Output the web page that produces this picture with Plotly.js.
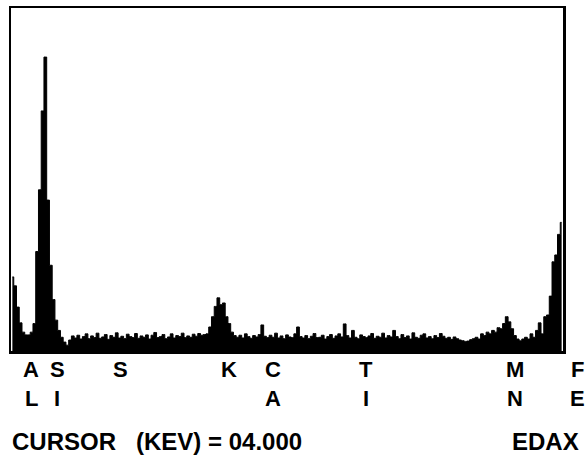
<!DOCTYPE html>
<html>
<head>
<meta charset="utf-8">
<script src="https://cdn.plot.ly/plotly-3.0.1.min.js"></script>
<style>html,body{margin:0;padding:0;background:#fff;}#chart{width:588px;height:459px;}</style>
</head>
<body>
<div id="chart"></div>
<script>
// EDS spectrum: channel calibration (keV)
const startKeV = 1.32;
const stepKeV = 0.025;

// counts per channel (arbitrary units)
const counts = [
  21.6, 19.0, 12.8, 8.2, 5.5, 4.7, 4.7, 5.5, 8.0, 29.0,
  47.0, 70.0, 85.7, 44.0, 25.0, 15.0, 9.0, 6.0, 4.0, 2.6,
  1.7, 3.2, 4.4, 3.8, 4.6, 3.5, 4.2, 5.0, 3.6, 4.4,
  3.9, 5.2, 3.7, 4.1, 4.8, 3.4, 4.5, 4.0, 5.3, 3.8,
  4.3, 3.6, 4.9, 4.2, 3.9, 5.1, 3.7, 4.4, 4.0, 4.7,
  3.5, 4.6, 5.4, 3.9, 4.2, 4.8, 3.6, 4.1, 5.0, 3.8,
  4.5, 4.2, 5.2, 3.9, 4.4, 4.0, 4.9, 4.3, 5.1, 4.6,
  4.8, 5.0, 7.0, 10.0, 13.0, 15.5, 13.5, 14.0, 10.0, 8.0,
  5.5, 4.5, 4.0, 4.6, 3.8, 5.0, 4.2, 3.7, 4.5, 4.1,
  4.8, 7.6, 4.3, 3.9, 4.6, 4.0, 5.2, 3.8, 4.4, 3.6,
  4.7, 4.1, 3.9, 5.0, 7.0, 4.2, 3.8, 4.5, 3.6, 4.3,
  5.1, 3.9, 4.0, 4.6, 3.5, 4.2, 4.8, 3.7, 4.4, 5.0,
  4.1, 7.9, 4.5, 3.8, 6.0, 4.0, 3.6, 4.7, 4.2, 3.9,
  4.4, 5.1, 3.7, 4.3, 4.0, 5.2, 3.8, 4.5, 4.1, 6.0,
  4.2, 3.6, 4.8, 3.9, 4.4, 3.5, 5.3, 4.0, 3.7, 4.6,
  5.0, 3.8, 4.2, 3.6, 4.5, 3.9, 5.1, 4.3, 3.7, 4.0,
  3.4, 4.1, 3.6, 3.2, 3.0, 2.8, 2.9, 3.3, 3.6, 4.0,
  3.5, 5.0, 4.5, 5.5, 5.0, 6.0, 5.5, 6.8, 6.5, 8.0,
  10.0, 8.5, 6.5, 4.5, 3.5, 3.0, 3.5, 4.0, 3.5, 5.0,
  4.0, 6.0, 8.2, 5.0, 10.0, 10.5, 16.0, 26.0, 28.0, 34.0,
  37.5
];

// element marker labels (two rows) and their energies (keV)
const elemTop    = ['A', 'S', 'S', 'K', 'C', 'T', 'M', 'F'];
const elemBottom = ['L', 'I', '',  '',  'A', 'I', 'N', 'E'];
const elemKeV    = [1.49, 1.73, 2.30, 3.29, 3.69, 4.54, 5.90, 6.46];

const cursorText = 'CURSOR\u00a0\u00a0\u00a0(KEV) = 04.000';
const brandText = 'EDAX';

const energies = counts.map((_, i) => startKeV + i * stepKeV);
const xMin = energies[0] - stepKeV / 2;
const xMax = energies[energies.length - 1] + stepKeV / 2;
const yMax = 100;

const trace = {
  x: energies,
  y: counts,
  type: 'scatter',
  mode: 'lines',
  line: {color: '#000', width: 1, shape: 'hvh'},
  fill: 'tozeroy',
  fillcolor: '#000',
  hoverinfo: 'skip'
};

const rowFont = {family: 'Liberation Sans, Arial, sans-serif', size: 22, color: '#000', weight: 'bold'};
const footFont = {family: 'Liberation Sans, Arial, sans-serif', size: 24, color: '#000', weight: 'bold'};
const annotations = [];
const toPaper = e => (e - xMin) / (xMax - xMin);
elemKeV.forEach((e, i) => {
  annotations.push({xref: 'paper', yref: 'paper', x: toPaper(e), y: 0, yshift: -18,
    xanchor: 'center', yanchor: 'middle', text: elemTop[i], showarrow: false, font: rowFont});
  if (elemBottom[i]) {
    annotations.push({xref: 'paper', yref: 'paper', x: toPaper(e), y: 0, yshift: -47,
      xanchor: 'center', yanchor: 'middle', text: elemBottom[i], showarrow: false, font: rowFont});
  }
});
annotations.push({xref: 'paper', yref: 'paper', x: -0.002, y: 0, yshift: -90,
  xanchor: 'left', yanchor: 'middle', text: cursorText, showarrow: false, font: footFont});
annotations.push({xref: 'paper', yref: 'paper', x: 1.033, y: 0, yshift: -90,
  xanchor: 'right', yanchor: 'middle', text: brandText, showarrow: false, font: footFont});

const layout = {
  width: 588, height: 459,
  margin: {l: 11, r: 25, t: 8, b: 108},
  paper_bgcolor: '#fff', plot_bgcolor: '#fff',
  showlegend: false,
  xaxis: {range: [xMin, xMax], showgrid: false, zeroline: false, showticklabels: false, ticks: '',
    showline: true, mirror: true, linecolor: '#000', linewidth: 2.5},
  yaxis: {range: [0, yMax], showgrid: false, zeroline: false, showticklabels: false, ticks: '',
    showline: true, mirror: true, linecolor: '#000', linewidth: 2.5},
  annotations: annotations
};

Plotly.newPlot('chart', [trace], layout, {staticPlot: true, displayModeBar: false});
</script>
</body>
</html>
